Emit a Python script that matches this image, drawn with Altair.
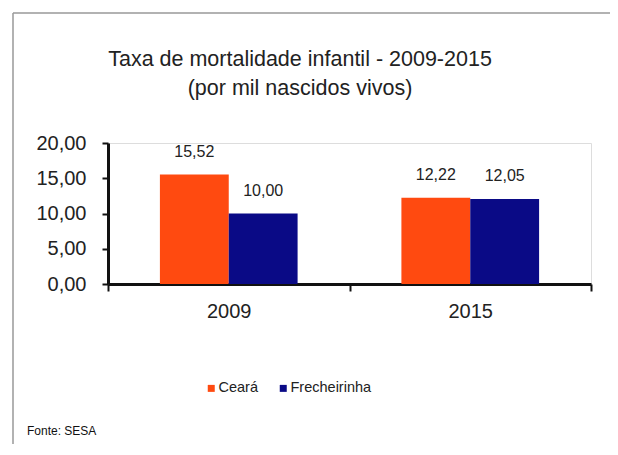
import altair as alt
import pandas as pd

anos = ["2009", "2015"]
series = ["Ceará", "Frecheirinha"]
ceara = [15.52, 12.22]
frecheirinha = [10.00, 12.05]
cores = ["#FF4A10", "#0A0A86"]
titulo = ["Taxa de mortalidade infantil - 2009-2015", "(por mil nascidos vivos)"]
fonte = ["Fonte: SESA"]

rows = []
for i, a in enumerate(anos):
    rows.append({"ano": a, "serie": series[0], "valor": ceara[i]})
    rows.append({"ano": a, "serie": series[1], "valor": frecheirinha[i]})
df = pd.DataFrame(rows)

FONT = "Liberation Sans"

x = alt.X("ano:N", sort=anos, title=None,
          scale=alt.Scale(paddingInner=0, paddingOuter=0),
          axis=alt.Axis(labelAngle=0, tickBand="extent", labelFontSize=20, labelFont=FONT,
                        labelColor="#222", domainColor="#111", domainWidth=3,
                        tickColor="#111", tickWidth=2, tickSize=7, labelPadding=10))
xo = alt.XOffset("serie:N", sort=series,
                 scale=alt.Scale(paddingInner=0, paddingOuter=0.754))
y = alt.Y("valor:Q", title=None,
          scale=alt.Scale(domain=[0, 20]),
          axis=alt.Axis(values=[0, 5, 10, 15, 20], grid=False,
                        labelExpr="replace(format(datum.value, '.2f'), '.', ',')",
                        labelFontSize=20, labelFont=FONT, labelColor="#222",
                        domainColor="#111", domainWidth=3, tickColor="#111",
                        tickWidth=2, tickSize=6, labelPadding=16))

base = alt.Chart(df).encode(x=x, xOffset=xo, y=y)

bars = base.mark_bar().encode(
    color=alt.Color("serie:N", sort=series,
                    scale=alt.Scale(domain=series, range=cores),
                    legend=alt.Legend(title=None, orient="none", direction="horizontal",
                                      legendX=96, legendY=238, symbolType="square",
                                      symbolSize=49, symbolStrokeWidth=0,
                                      labelFontSize=14.5, labelFont=FONT, labelColor="#222",
                                      columnPadding=18, labelOffset=0, padding=0))
)

labels = base.transform_calculate(
    txt="replace(format(datum.valor, '.2f'), '.', ',')"
).mark_text(dy=-15, baseline="bottom", fontSize=16, font=FONT, color="#222").encode(
    text="txt:N"
)

title_df = pd.DataFrame({"t": ["\n".join(titulo)]})
title_txt = alt.Chart(title_df).mark_text(
    align="center", baseline="middle", fontSize=21.5, font=FONT, color="#222",
    lineBreak="\n", lineHeight=29
).encode(x=alt.value(192), y=alt.value(-83), text="t:N")

fonte_df = pd.DataFrame({"t": fonte})
fonte_txt = alt.Chart(fonte_df).mark_text(
    align="left", baseline="middle", fontSize=12, font=FONT, color="#111"
).encode(x=alt.value(-81), y=alt.value(288), text="t:N")

border_v = alt.Chart(fonte_df).mark_rule(color="#999", strokeWidth=1.5).encode(
    x=alt.value(-95), y=alt.value(-130), y2=alt.value(320))
border_h = alt.Chart(fonte_df).mark_rule(color="#999", strokeWidth=1.5).encode(
    x=alt.value(-95), x2=alt.value(520), y=alt.value(-130))

chart = alt.layer(border_v, border_h, bars, labels, title_txt, fonte_txt).properties(
    width=483, height=141,
    autosize=alt.AutoSizeParams(type="none"),
    padding={"left": 100, "top": 135, "right": 19, "bottom": 160}
).configure_view(stroke=None).configure(background="white")

chart.save("out.html", embed_options={"renderer": "svg", "actions": False})
